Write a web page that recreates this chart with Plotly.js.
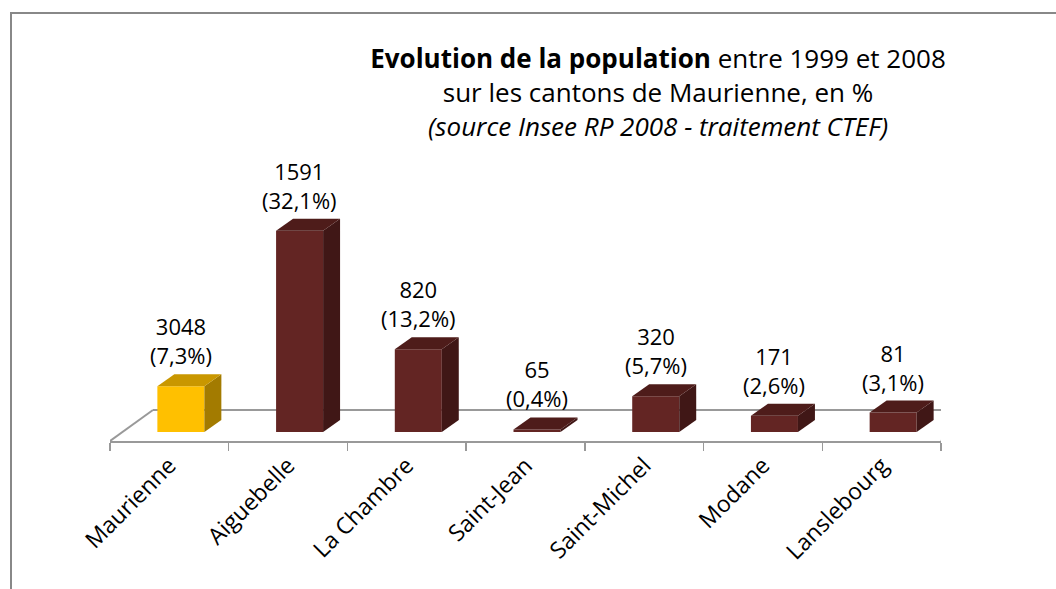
<!DOCTYPE html>
<html>
<head>
<meta charset="utf-8">
<script src="https://cdn.plot.ly/plotly-3.0.1.min.js"></script>
<style>
  html, body { margin: 0; padding: 0; background: #ffffff; overflow: hidden; }
  #wrap { position: relative; width: 1056px; height: 589px; }
  #chart { position: absolute; left: 0; top: 0; width: 1056px; height: 589px; z-index: 1; }
  .frame { position: absolute; background: #888888; pointer-events: none; z-index: 10; }
  #frameTop { left: 10px; top: 12px; width: 1046px; height: 2px; }
  #frameLeft { left: 10px; top: 12px; width: 2px; height: 577px; }
</style>
</head>
<body>
<div id="wrap">
<div id="chart"></div>
<div id="frameTop" class="frame"></div>
<div id="frameLeft" class="frame"></div>
</div>
<script>
// ---- Data ----
const categories = ['Maurienne', 'Aiguebelle', 'La Chambre', 'Saint-Jean', 'Saint-Michel', 'Modane', 'Lanslebourg'];
const counts = [3048, 1591, 820, 65, 320, 171, 81];
const pctValues = [7.3, 32.1, 13.2, 0.4, 5.7, 2.6, 3.1];

// ---- Styles ----
const frontColors = ['#FFC000', '#632523', '#632523', '#632523', '#632523', '#632523', '#632523'];
const sideColors  = ['#A37B00', '#401716', '#401716', '#401716', '#401716', '#401716', '#401716'];
const topColors   = ['#C99700', '#4E1C1A', '#4E1C1A', '#4E1C1A', '#4E1C1A', '#4E1C1A', '#4E1C1A'];
const FONT = '"Open Sans", "DejaVu Sans", sans-serif';
const gridGray = '#999999';

const W = 1056, H = 589;
const M = {l: 110, r: 115, t: 40, b: 148};
const pxPerUnit = 6.27;                 // pixels per percentage point
const plotH = H - M.t - M.b;
const yMin = -9 / pxPerUnit;            // floor front edge below bar base
const yMax = yMin + plotH / pxPerUnit;

const barWidth = 0.396;
const barShift = 0.097;
const depthX = 0.143;                   // bar depth (category units)
const depthY = 12 / pxPerUnit;          // bar depth (value units)
const floorDX = 0.362;
const floorDY = 31 / pxPerUnit;

const fmtPct = v => v.toFixed(1).replace('.', ',');

// ---- Trace (front faces) ----
const trace = {
  type: 'bar',
  x: categories,
  y: pctValues,
  width: barWidth,
  offset: barShift - barWidth / 2,
  marker: {color: frontColors, line: {width: 0}},
  hovertemplate: '%{x}: %{y}%<extra></extra>'
};

// ---- 3D faces computed from data ----
const shapes = [];
const n = categories.length;
shapes.push({type: 'line', xref: 'x', yref: 'y', layer: 'below',
  x0: -0.5 + floorDX, y0: yMin + floorDY, x1: n - 0.5 + floorDX, y1: yMin + floorDY,
  line: {color: gridGray, width: 2}});
shapes.push({type: 'line', xref: 'x', yref: 'y', layer: 'below',
  x0: -0.5, y0: yMin, x1: -0.5 + floorDX, y1: yMin + floorDY,
  line: {color: gridGray, width: 2}});
shapes.push({type: 'line', xref: 'x', yref: 'y', layer: 'below',
  x0: n - 0.5, y0: yMin, x1: n - 0.5 + floorDX, y1: yMin + floorDY,
  line: {color: gridGray, width: 2}});

pctValues.forEach((v, i) => {
  const xl = i + barShift - barWidth / 2;
  const xr = xl + barWidth;
  shapes.push({type: 'path', xref: 'x', yref: 'y', layer: 'above',
    path: `M ${xr},0 L ${xr + depthX},${depthY} L ${xr + depthX},${v + depthY} L ${xr},${v} Z`,
    fillcolor: sideColors[i], line: {width: 0}});
  shapes.push({type: 'path', xref: 'x', yref: 'y', layer: 'above',
    path: `M ${xl},${v} L ${xl + depthX},${v + depthY} L ${xr + depthX},${v + depthY} L ${xr},${v} Z`,
    fillcolor: topColors[i], line: {width: 0}});
});

// ---- Data labels ----
const annotations = pctValues.map((v, i) => ({
  x: i + barShift, y: v + depthY, xref: 'x', yref: 'y',
  text: `${counts[i]}<br>(${fmtPct(v)}%)`,
  showarrow: false, xanchor: 'center', yanchor: 'bottom', yshift: 2,
  font: {family: FONT, size: 22, color: '#000000'}
}));

const layout = {
  width: W, height: H,
  margin: M,
  paper_bgcolor: 'rgba(255,255,255,0)',
  plot_bgcolor: 'rgba(0,0,0,0)',
  showlegend: false,
  font: {family: FONT, color: '#000000'},
  title: {
    text: '<b>Evolution de la population</b> entre 1999 et 2008<br>sur les cantons de Maurienne, en %<br><i>(source Insee RP 2008 - traitement CTEF)</i>',
    font: {family: FONT, size: 26, color: '#000000'},
    xref: 'container', yref: 'container',
    x: 658 / W, xanchor: 'center',
    y: 1 - 68 / H, yanchor: 'top'
  },
  xaxis: {
    type: 'category',
    range: [-0.5, n - 0.5],
    showline: true, linecolor: gridGray, linewidth: 2,
    ticks: 'outside', tickson: 'boundaries', ticklen: 8, tickwidth: 1.5, tickcolor: gridGray,
    tickangle: -45,
    tickfont: {family: FONT, size: 23, color: '#000000'},
    showgrid: false, zeroline: false, fixedrange: true
  },
  yaxis: {
    range: [yMin, yMax],
    visible: false, showgrid: false, zeroline: false, fixedrange: true
  },
  shapes: shapes,
  annotations: annotations
};

Plotly.newPlot('chart', [trace], layout, {displayModeBar: false, staticPlot: true});
</script>
</body>
</html>
